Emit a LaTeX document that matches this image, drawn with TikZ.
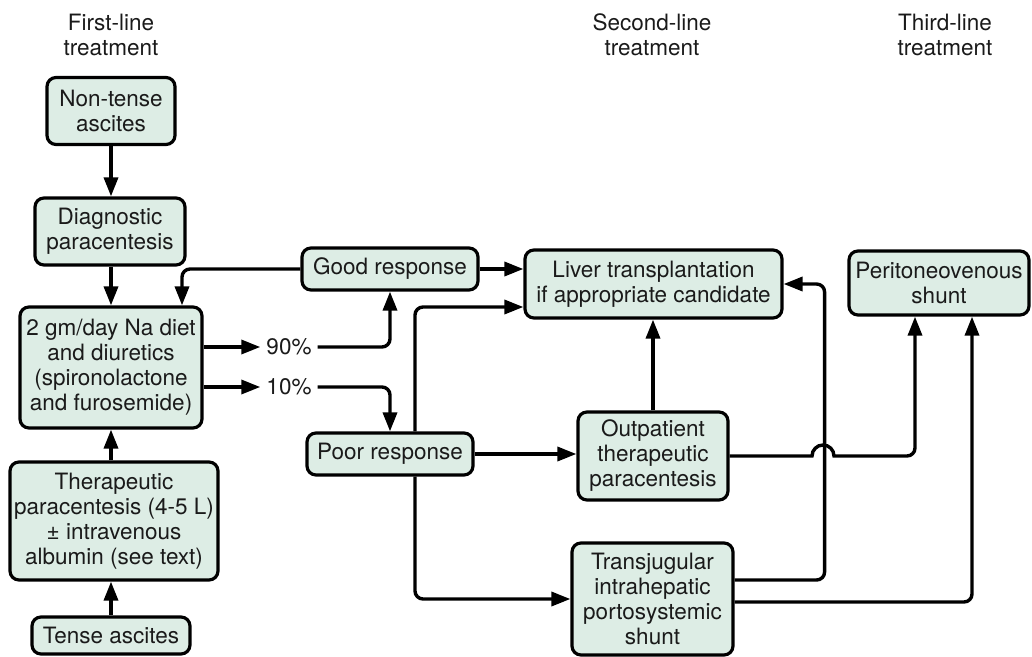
\documentclass[tikz,border=0pt]{standalone}
\usepackage{fontspec}
\setmainfont{TeX Gyre Heros}
\usetikzlibrary{arrows.meta}
\definecolor{boxfill}{HTML}{DDEDE5}
\definecolor{ink}{HTML}{1A1A1A}
\begin{document}
\begin{tikzpicture}[x=1pt,y=-1pt,
  txt/.style={font=\fontsize{22.5pt}{25pt}\selectfont, text=ink, align=center, inner sep=0pt},
  box/.style={txt, draw=black, line width=3.2pt, fill=boxfill, rounded corners=9pt},
  arr/.style={line width=3.4pt, -{Triangle[length=19pt,width=14pt]}},
  ln/.style={line width=3.4pt}]
\useasboundingbox (0,0) rectangle (1032,656);
% headers
\node[txt] (h1) at (111,34.5) {First-line\\treatment};
\node[txt] (h2) at (652,34.5) {Second-line\\treatment};
\node[txt] (h3) at (945,34.5) {Third-line\\treatment};
% boxes
\node[box, minimum width=128pt, minimum height=67pt] (nt) at (111,111) {Non-tense\\ascites};
\node[box, minimum width=150pt, minimum height=67pt] (dp) at (110,231.5) {Diagnostic\\paracentesis};
\node[box, minimum width=182pt, minimum height=121pt] (diet) at (111,367.5) {2 gm/day Na diet\\and diuretics\\(spironolactone\\and furosemide)};
\node[box, minimum width=208pt, minimum height=118pt] (tp) at (114,521) {Therapeutic\\paracentesis (4-5 L)\\± intravenous\\albumin (see text)};
\node[box, minimum width=158pt, minimum height=37pt] (ta) at (111,635.5) {Tense ascites};
\node[box, minimum width=176pt, minimum height=42pt] (good) at (390,269) {Good response};
\node[box, minimum width=166pt, minimum height=42pt] (poor) at (390,454) {Poor response};
\node[box, minimum width=257pt, minimum height=68pt] (liver) at (653.5,284) {Liver transplantation\\if appropriate candidate};
\node[box, minimum width=150pt, minimum height=88pt] (out) at (653,456) {Outpatient\\therapeutic\\paracentesis};
\node[box, minimum width=161pt, minimum height=112pt] (tips) at (652.5,599) {Transjugular\\intrahepatic\\portosystemic\\shunt};
\node[box, minimum width=180pt, minimum height=64pt] (peri) at (939,283) {Peritoneovenous\\shunt};
% labels
\node[txt, inner xsep=6pt] (n90) at (289,347) {90\%};
\node[txt, inner xsep=6pt] (n10) at (289,387) {10\%};
% connectors
\draw[arr] (nt.south) -- (nt.south |- dp.north);
\draw[arr] (dp.south -| diet.north) -- (diet.north);
\draw[arr, rounded corners=8pt] (good.west) -| ([xshift=71pt]diet.north);
\draw[arr] (diet.east |- n90) -- (n90.west);
\draw[arr] (diet.east |- n10) -- (n10.west);
\draw[arr, rounded corners=8pt] (n90.east) -| (good.south);
\draw[arr, rounded corners=8pt] (n10.east) -| (poor.north);
\draw[arr] (tp.north -| diet.south) -- (diet.south);
\draw[arr] (ta.north) -- (ta.north |- tp.south);
\draw[arr] (good.east) -- (good.east -| liver.west);
\draw[arr, rounded corners=8pt] ([xshift=25pt]poor.north) |- ([yshift=-23pt]liver.west);
\draw[arr, rounded corners=8pt] ([xshift=25pt]poor.south) |- (tips.west);
\draw[arr] (poor.east) -- (poor.east -| out.west);
\draw[arr] (out.north) -- (out.north |- liver.south);
\draw[arr] (out.east) -- (812,456) arc[start angle=180, end angle=0, radius=11pt] [rounded corners=8pt] -- (915,456) -- ([xshift=-24pt]peri.south);
\draw[arr, rounded corners=8pt] ([yshift=19pt]tips.east) -| ([xshift=41pt]liver.east) -- (liver.east);
\draw[arr, rounded corners=8pt] ([yshift=-3pt]tips.east) -| ([xshift=33pt]peri.south);
\end{tikzpicture}
\end{document}
